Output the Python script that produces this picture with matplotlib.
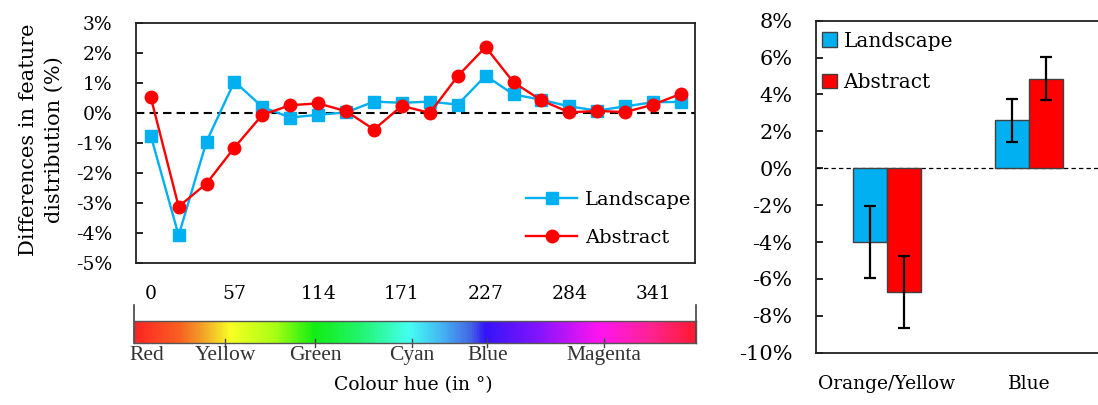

# Colour hue differences: line plot of feature distribution + bar summary

import numpy as np
import matplotlib
matplotlib.use('Agg')
import matplotlib.pyplot as plt
from matplotlib.colors import LinearSegmentedColormap
from matplotlib.ticker import MultipleLocator, FuncFormatter

# hue bins (19 steps around the wheel, last point closes the circle)
hue_bins = np.arange(20) * 360 / 19
hue_tick_idx = [0, 3, 6, 9, 12, 15, 18]

landscape = [-0.75, -4.08, -0.95, 1.05, 0.2, -0.15, -0.06, 0.02, 0.38, 0.34,
             0.38, 0.28, 1.24, 0.62, 0.44, 0.22, 0.08, 0.22, 0.36, 0.37]
abstract = [0.53, -3.12, -2.35, -1.15, -0.06, 0.26, 0.32, 0.06, -0.55, 0.24,
            0.0, 1.23, 2.2, 1.02, 0.42, 0.02, 0.07, 0.03, 0.28, 0.64]

# bar summary
groups = ['Orange/Yellow', 'Blue']
bar_landscape = [-4.0, 2.6]
bar_abstract = [-6.7, 4.85]
err_landscape = [1.95, 1.17]
err_abstract = [1.95, 1.17]

# colour strip under the hue axis
hue_names = ['Red', 'Yellow', 'Green', 'Cyan', 'Blue', 'Magenta']
hue_name_pos = [0.023, 0.162, 0.322, 0.495, 0.629, 0.836]
strip_stops = [0.0, 0.08, 0.12, 0.17, 0.25, 0.32, 0.40, 0.49, 0.55, 0.60,
               0.625, 0.72, 0.83, 0.92, 1.0]
strip_colors = ['#ff2424', '#f86222', '#f2a228', '#f8ff24', '#a6ff14', '#12ee12',
                '#22f46a', '#44fff2', '#44b2f2', '#4466e6', '#3414f8', '#8214ff',
                '#ff14f0', '#ff2494', '#ff1a32']

blue = '#00b0f0'
red = '#ff0000'

plt.rcParams['font.family'] = ['DejaVu Serif']
plt.rcParams['font.size'] = 13.5

fig = plt.figure(figsize=(10.98, 4.05), dpi=100)
W, H = 1098.0, 405.0


def ax_at(x0, y0, x1, y1):
    return fig.add_axes([x0 / W, 1 - y1 / H, (x1 - x0) / W, (y1 - y0) / H])


def pct(v, pos):
    return '%d%%' % int(round(v))


# ---- left: line plot ----
ax = ax_at(136, 23, 695, 263)
ax.plot(hue_bins, landscape, color=blue, lw=1.7, marker='s', ms=8.5,
        label='Landscape', zorder=3)
ax.plot(hue_bins, abstract, color=red, lw=1.7, marker='o', ms=9,
        label='Abstract', zorder=4)
ax.axhline(0, color='black', lw=1.5, ls=(0, (4, 2.5)), zorder=2)
ax.set_xlim(-10, 369.5)
ax.set_ylim(-5, 3)
ax.yaxis.set_major_locator(MultipleLocator(1))
ax.yaxis.set_major_formatter(FuncFormatter(pct))
ax.set_xticks(hue_bins[hue_tick_idx])
ax.set_xticklabels(['%d' % round(h) for h in hue_bins[hue_tick_idx]])
ax.tick_params(axis='x', length=0, pad=16)
ax.tick_params(axis='y', direction='in', length=5, width=1.2, pad=17)
for s in ax.spines.values():
    s.set_linewidth(1.3)
    s.set_color('#222222')
ax.legend(loc='center right', bbox_to_anchor=(1.0, 0.183), frameon=False,
          fontsize=14, handlelength=2.6, handletextpad=0.4, labelspacing=1.05,
          borderpad=0.2, borderaxespad=0)

fig.text(41 / W, 1 - 140 / H, 'Differences in feature\ndistribution (%)',
         rotation=90, ha='center', va='center', multialignment='center',
         linespacing=1.45, fontsize=15)

# colour strip
cax = ax_at(134, 320.7, 696, 343.3)
grad = np.linspace(0, 1, 600).reshape(1, -1)
cmap = LinearSegmentedColormap.from_list('hue', list(zip(strip_stops, strip_colors)))
cax.imshow(grad, aspect='auto', cmap=cmap, extent=[0, 1, 0, 1],
           interpolation='bilinear')
cax.set_xlim(0, 1)
cax.set_ylim(0, 1)
cax.set_xticks([])
cax.set_yticks([])
for s in cax.spines.values():
    s.set_linewidth(1)
    s.set_color('#555555')
for xe in (0, 1):
    cax.plot([xe, xe], [0, 1.69], color='#444444', lw=1.2, clip_on=False)
for name, xp in zip(hue_names, hue_name_pos):
    if name != 'Red':
        cax.plot([xp, xp], [-0.18, 0.2], color='#444444', lw=1, clip_on=False)
    cax.text(xp, -0.52, name, ha='center', va='center', fontsize=15.5,
             family='Liberation Serif', color='#333333')

fig.text(413 / W, 1 - 385 / H, 'Colour hue (in \u00b0)', ha='center',
         va='center', fontsize=13.5)

# ---- right: bar summary ----
bx = ax_at(816, 20.7, 1100, 352.7)
x = np.arange(len(groups))
bw = 0.24
bx.bar(x - bw / 2, bar_landscape, bw, color=blue, edgecolor='#404040', lw=1,
       label='Landscape', zorder=2)
bx.bar(x + bw / 2, bar_abstract, bw, color=red, edgecolor='#404040', lw=1,
       label='Abstract', zorder=2)
bx.errorbar(x - bw / 2, bar_landscape, yerr=err_landscape, fmt='none',
            ecolor='black', elinewidth=1.6, capsize=4, capthick=1.6, zorder=3)
bx.errorbar(x + bw / 2, bar_abstract, yerr=err_abstract, fmt='none',
            ecolor='black', elinewidth=1.6, capsize=4, capthick=1.6, zorder=3)
bx.axhline(0, color='black', lw=0.9, ls=(0, (3.5, 2.5)), zorder=1)
bx.set_xlim(-0.5, 1.5)
bx.set_ylim(-10, 8)
bx.yaxis.set_major_locator(MultipleLocator(2))
bx.yaxis.set_major_formatter(FuncFormatter(pct))
bx.set_xticks(x)
bx.set_xticklabels(groups)
bx.tick_params(axis='x', length=0, pad=16)
bx.tick_params(axis='y', direction='in', length=5, width=1.2, pad=17,
               labelsize=15)
bx.spines['right'].set_visible(False)
for s in ('left', 'top', 'bottom'):
    bx.spines[s].set_linewidth(1.3)
    bx.spines[s].set_color('#222222')
bx.legend(loc='upper left', bbox_to_anchor=(-0.017, 1.0), frameon=False,
          fontsize=14.5, handlelength=0.75, handleheight=0.75,
          handletextpad=0.3, labelspacing=1.1, borderpad=0.55,
          borderaxespad=0)

fig.savefig('out.png', dpi=100)
